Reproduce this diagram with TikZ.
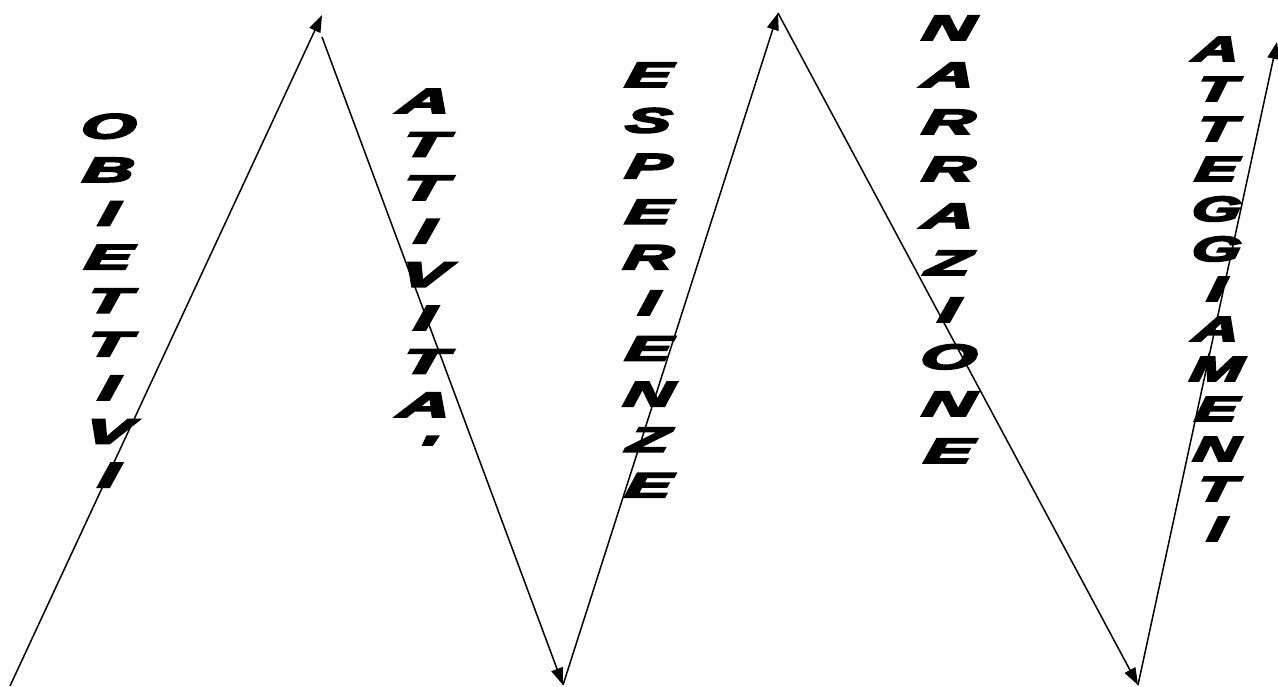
\documentclass[tikz,border=0pt]{standalone}
\usepackage{fontspec}
\usepackage{graphicx}
\usetikzlibrary{arrows.meta}
\newfontfamily\wafont{Liberation Sans Bold Italic}[FakeBold=5,FakeSlant=0.08]
\newcommand\vstack[3]{\scalebox{#1}[1]{\fontsize{35}{#2}\selectfont\begin{tabular}{@{}c@{}}#3\end{tabular}}}
\begin{document}
\begin{tikzpicture}[x=1pt,y=-1pt,
  arr/.style={line width=1.5pt,-{Triangle[length=17pt,width=12pt]}},
  word/.style={inner sep=0pt,font=\wafont,anchor=center}]
\useasboundingbox (0,0) rectangle (1278,686);
\coordinate (p0) at (10,686);
\coordinate (p1) at (322,15);
\coordinate (p1b) at (322,37);
\coordinate (p2) at (563,685);
\coordinate (p3) at (778,13);
\coordinate (p4) at (1138,685);
\coordinate (p5) at (1277,42);
\node[word] (w1) at (107,304) {\vstack{2.0}{43.6}{O\\B\\I\\E\\T\\T\\I\\V\\I}};
\node[word] (w2) at (423,278) {\vstack{2.05}{43.4}{A\\T\\T\\I\\V\\I\\T\\A\\'}};
\node[word] (w3) at (647,283) {\vstack{1.95}{45.6}{E\\S\\P\\E\\R\\I\\E\\N\\Z\\E}};
\node[word] (w4) at (947,242) {\vstack{2.05}{47}{N\\A\\R\\R\\A\\Z\\I\\O\\N\\E}};
\node[word] (w5) at (1215,293) {\vstack{1.8}{40}{A\\T\\T\\E\\G\\G\\I\\A\\M\\E\\N\\T\\I}};
\draw[arr] (p0) -- (p1);
\draw[arr] (p1b) -- (p2);
\draw[arr] (p2) -- (p3);
\draw[arr] (p3) -- (p4);
\draw[arr] (p4) -- (p5);
\end{tikzpicture}
\end{document}
